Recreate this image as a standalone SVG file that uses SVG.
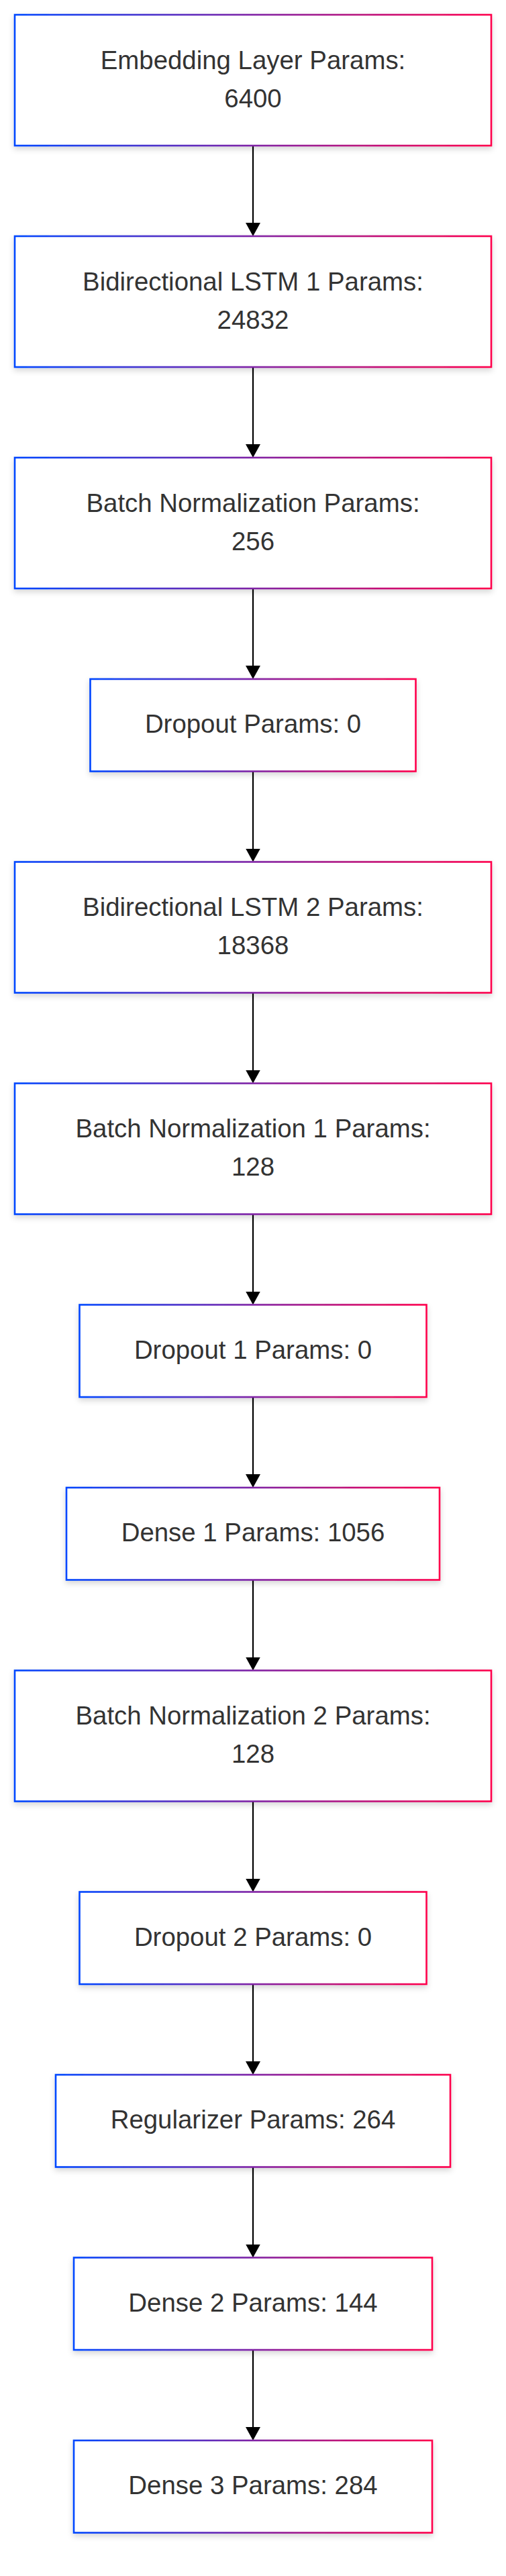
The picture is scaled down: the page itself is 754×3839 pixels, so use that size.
<svg xmlns="http://www.w3.org/2000/svg" width="754" height="3839" viewBox="0 0 754 3839">
<defs>
<linearGradient id="edgeGrad" x1="0" y1="0" x2="1" y2="0">
<stop offset="0" stop-color="#0046ff"/>
<stop offset="1" stop-color="#ff004c"/>
</linearGradient>
<filter id="shadow" x="-10%" y="-20%" width="120%" height="150%">
<feDropShadow dx="0" dy="4" stdDeviation="4" flood-color="#000" flood-opacity="0.16"/>
</filter>
<marker id="arrow" markerUnits="userSpaceOnUse" markerWidth="20" markerHeight="22" viewBox="0 0 20 22" refX="2" refY="11" orient="auto">
<path d="M0,0 L20,11 L0,22 z" fill="#000"/>
</marker>
</defs>
<style>
.node rect{fill:#fff;stroke:url(#edgeGrad);stroke-width:2.6;filter:url(#shadow);}
.node text{font-family:"Liberation Sans",Arial,sans-serif;font-size:38.4px;fill:#333;text-anchor:middle;}
.edge{stroke:#000;stroke-width:2.2;fill:none;marker-end:url(#arrow);}
</style>
<rect width="754" height="3839" fill="#fff"/>
<g id="connectors">
<line class="edge" x1="377" y1="217" x2="377" y2="334"/>
<line class="edge" x1="377" y1="547" x2="377" y2="664"/>
<line class="edge" x1="377" y1="877" x2="377" y2="994"/>
<line class="edge" x1="377" y1="1149.5" x2="377" y2="1266.5"/>
<line class="edge" x1="377" y1="1479.5" x2="377" y2="1596.5"/>
<line class="edge" x1="377" y1="1809.5" x2="377" y2="1926.5"/>
<line class="edge" x1="377" y1="2082" x2="377" y2="2199"/>
<line class="edge" x1="377" y1="2354.5" x2="377" y2="2471.5"/>
<line class="edge" x1="377" y1="2684.5" x2="377" y2="2801.5"/>
<line class="edge" x1="377" y1="2957" x2="377" y2="3074"/>
<line class="edge" x1="377" y1="3229.5" x2="377" y2="3346.5"/>
<line class="edge" x1="377" y1="3502" x2="377" y2="3619"/>
</g>
<g id="embedding" class="node">
<rect x="22" y="22" width="710" height="195"/>
<text x="377" y="102.5">Embedding Layer Params:</text>
<text x="377" y="159.5">6400</text>
</g>
<g id="bilstm1" class="node">
<rect x="22" y="352" width="710" height="195"/>
<text x="377" y="432.5">Bidirectional LSTM 1 Params:</text>
<text x="377" y="489.5">24832</text>
</g>
<g id="batchnorm" class="node">
<rect x="22" y="682" width="710" height="195"/>
<text x="377" y="762.5">Batch Normalization Params:</text>
<text x="377" y="819.5">256</text>
</g>
<g id="dropout" class="node">
<rect x="134.5" y="1012" width="485" height="137.5"/>
<text x="377" y="1092">Dropout Params: 0</text>
</g>
<g id="bilstm2" class="node">
<rect x="22" y="1284.5" width="710" height="195"/>
<text x="377" y="1365">Bidirectional LSTM 2 Params:</text>
<text x="377" y="1422">18368</text>
</g>
<g id="batchnorm1" class="node">
<rect x="22" y="1614.5" width="710" height="195"/>
<text x="377" y="1695">Batch Normalization 1 Params:</text>
<text x="377" y="1752">128</text>
</g>
<g id="dropout1" class="node">
<rect x="118.5" y="1944.5" width="517" height="137.5"/>
<text x="377" y="2024.5">Dropout 1 Params: 0</text>
</g>
<g id="dense1" class="node">
<rect x="99" y="2217" width="556" height="137.5"/>
<text x="377" y="2297">Dense 1 Params: 1056</text>
</g>
<g id="batchnorm2" class="node">
<rect x="22" y="2489.5" width="710" height="195"/>
<text x="377" y="2570">Batch Normalization 2 Params:</text>
<text x="377" y="2627">128</text>
</g>
<g id="dropout2" class="node">
<rect x="118.5" y="2819.5" width="517" height="137.5"/>
<text x="377" y="2899.5">Dropout 2 Params: 0</text>
</g>
<g id="regularizer" class="node">
<rect x="83" y="3092" width="588" height="137.5"/>
<text x="377" y="3172">Regularizer Params: 264</text>
</g>
<g id="dense2" class="node">
<rect x="110" y="3364.5" width="534" height="137.5"/>
<text x="377" y="3444.5">Dense 2 Params: 144</text>
</g>
<g id="dense3" class="node">
<rect x="110" y="3637" width="534" height="137.5"/>
<text x="377" y="3717">Dense 3 Params: 284</text>
</g>
</svg>
